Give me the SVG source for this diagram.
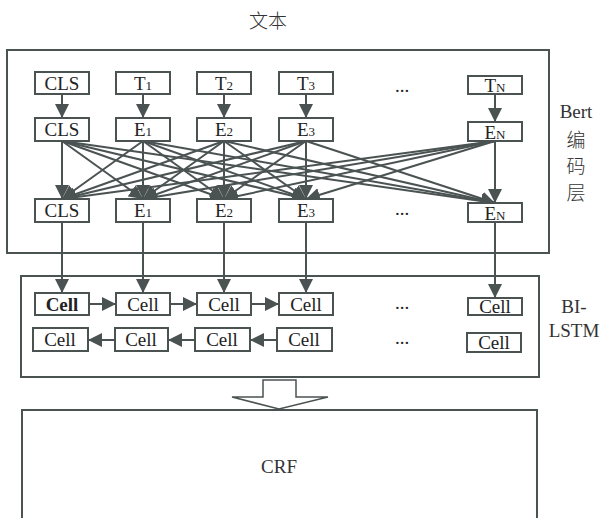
<svg xmlns="http://www.w3.org/2000/svg" width="600" height="518" viewBox="0 0 600 518">
<style>
.box{fill:#fff;stroke:#4b5352;stroke-width:2}
.frame{fill:none;stroke:#4b5352;stroke-width:2}
text{font-family:'Liberation Serif',serif;text-anchor:middle}
.cjk{font-family:'Liberation Serif','Noto Sans CJK SC',sans-serif;font-weight:300}
.t{font-size:19px;fill:#222}
.s{font-size:13px}
.lbl{font-size:19px;fill:#333}
.c{stroke:#4b5352;stroke-width:2;fill:none}
</style>
<defs>
<marker id="ah" markerUnits="userSpaceOnUse" markerWidth="15" markerHeight="14" refX="14" refY="7" orient="auto" viewBox="0 0 15 14">
<path d="M0,0 L14,7 L0,14 z" fill="#4b5352"/>
</marker>
</defs>
<rect width="600" height="518" fill="#fff"/>
<text class="lbl cjk" x="268" y="28" font-size="18">文本</text>
<rect class="frame" x="7" y="50" width="542" height="203"/>
<rect class="frame" x="21" y="276" width="518" height="101"/>
<rect class="frame" x="22" y="410" width="515" height="120"/>
<text class="lbl" x="279" y="473">CRF</text>
<text class="lbl" x="576" y="118">Bert</text>
<text class="lbl cjk" x="576" y="147">编</text>
<text class="lbl cjk" x="576" y="173">码</text>
<text class="lbl cjk" x="576" y="200">层</text>
<text class="lbl" x="574" y="313">BI-</text>
<text class="lbl" x="574" y="337">LSTM</text>
<path d="M263,380 H296 V397 H328 L279,409 L232,397 H263 Z" fill="#fff" stroke="#4b5352" stroke-width="1.5"/>
<g id="connectors">
<line class="c" x1="62" y1="94" x2="62" y2="118" marker-end="url(#ah)"/>
<line class="c" x1="143" y1="94" x2="143" y2="118" marker-end="url(#ah)"/>
<line class="c" x1="224" y1="94" x2="224" y2="118" marker-end="url(#ah)"/>
<line class="c" x1="306" y1="94" x2="306" y2="118" marker-end="url(#ah)"/>
<line class="c" x1="495" y1="94" x2="495" y2="122" marker-end="url(#ah)"/>
<g id="full">
<line class="c" x1="62" y1="141" x2="62" y2="199" marker-end="url(#ah)"/>
<line class="c" x1="62" y1="141" x2="143" y2="199" marker-end="url(#ah)"/>
<line class="c" x1="62" y1="141" x2="224" y2="199" marker-end="url(#ah)"/>
<line class="c" x1="62" y1="141" x2="306" y2="199" marker-end="url(#ah)"/>
<line class="c" x1="62" y1="141" x2="495" y2="203" marker-end="url(#ah)"/>
<line class="c" x1="143" y1="141" x2="62" y2="199" marker-end="url(#ah)"/>
<line class="c" x1="143" y1="141" x2="143" y2="199" marker-end="url(#ah)"/>
<line class="c" x1="143" y1="141" x2="224" y2="199" marker-end="url(#ah)"/>
<line class="c" x1="143" y1="141" x2="306" y2="199" marker-end="url(#ah)"/>
<line class="c" x1="143" y1="141" x2="495" y2="203" marker-end="url(#ah)"/>
<line class="c" x1="224" y1="141" x2="62" y2="199" marker-end="url(#ah)"/>
<line class="c" x1="224" y1="141" x2="143" y2="199" marker-end="url(#ah)"/>
<line class="c" x1="224" y1="141" x2="224" y2="199" marker-end="url(#ah)"/>
<line class="c" x1="224" y1="141" x2="306" y2="199" marker-end="url(#ah)"/>
<line class="c" x1="224" y1="141" x2="495" y2="203" marker-end="url(#ah)"/>
<line class="c" x1="306" y1="141" x2="62" y2="199" marker-end="url(#ah)"/>
<line class="c" x1="306" y1="141" x2="143" y2="199" marker-end="url(#ah)"/>
<line class="c" x1="306" y1="141" x2="224" y2="199" marker-end="url(#ah)"/>
<line class="c" x1="306" y1="141" x2="306" y2="199" marker-end="url(#ah)"/>
<line class="c" x1="306" y1="141" x2="495" y2="203" marker-end="url(#ah)"/>
<line class="c" x1="495" y1="141" x2="62" y2="199" marker-end="url(#ah)"/>
<line class="c" x1="495" y1="141" x2="143" y2="199" marker-end="url(#ah)"/>
<line class="c" x1="495" y1="141" x2="224" y2="199" marker-end="url(#ah)"/>
<line class="c" x1="495" y1="141" x2="306" y2="199" marker-end="url(#ah)"/>
<line class="c" x1="495" y1="141" x2="495" y2="203" marker-end="url(#ah)"/>
</g>
<line class="c" x1="62" y1="222" x2="62" y2="293" marker-end="url(#ah)"/>
<line class="c" x1="143" y1="222" x2="143" y2="293" marker-end="url(#ah)"/>
<line class="c" x1="224" y1="222" x2="224" y2="293" marker-end="url(#ah)"/>
<line class="c" x1="306" y1="222" x2="306" y2="293" marker-end="url(#ah)"/>
<line class="c" x1="495" y1="222" x2="495" y2="298" marker-end="url(#ah)"/>
<line class="c" x1="89" y1="304" x2="116" y2="304" marker-end="url(#ah)"/>
<line class="c" x1="170" y1="304" x2="197" y2="304" marker-end="url(#ah)"/>
<line class="c" x1="251" y1="304" x2="279" y2="304" marker-end="url(#ah)"/>
<line class="c" x1="115" y1="340" x2="88" y2="340" marker-end="url(#ah)"/>
<line class="c" x1="195" y1="340" x2="168" y2="340" marker-end="url(#ah)"/>
<line class="c" x1="277" y1="340" x2="250" y2="340" marker-end="url(#ah)"/>
</g>
<g id="in-cls"><rect class="box" x="35" y="72" width="54" height="22"/><text class="t" x="62" y="90">CLS</text></g>
<g id="in-t1"><rect class="box" x="116" y="72" width="54" height="22"/><text class="t" x="143" y="90">T<tspan class="s">1</tspan></text></g>
<g id="in-t2"><rect class="box" x="197" y="72" width="54" height="22"/><text class="t" x="224" y="90">T<tspan class="s">2</tspan></text></g>
<g id="in-t3"><rect class="box" x="279" y="72" width="54" height="22"/><text class="t" x="306" y="90">T<tspan class="s">3</tspan></text></g>
<g id="in-dots"><text class="t" x="402" y="92">...</text></g>
<g id="in-tn"><rect class="box" x="468" y="76" width="54" height="18"/><text class="t" x="495" y="92">T<tspan class="s">N</tspan></text></g>
<g id="e-cls"><rect class="box" x="35" y="118" width="54" height="23"/><text class="t" x="62" y="136">CLS</text></g>
<g id="e-1"><rect class="box" x="116" y="118" width="54" height="23"/><text class="t" x="143" y="136">E<tspan class="s">1</tspan></text></g>
<g id="e-2"><rect class="box" x="197" y="118" width="54" height="23"/><text class="t" x="224" y="136">E<tspan class="s">2</tspan></text></g>
<g id="e-3"><rect class="box" x="279" y="118" width="54" height="23"/><text class="t" x="306" y="136">E<tspan class="s">3</tspan></text></g>
<g id="e-n"><rect class="box" x="468" y="122" width="54" height="19"/><text class="t" x="495" y="139">E<tspan class="s">N</tspan></text></g>
<g id="o-cls"><rect class="box" x="35" y="199" width="54" height="23"/><text class="t" x="62" y="217">CLS</text></g>
<g id="o-1"><rect class="box" x="116" y="199" width="54" height="23"/><text class="t" x="143" y="217">E<tspan class="s">1</tspan></text></g>
<g id="o-2"><rect class="box" x="197" y="199" width="54" height="23"/><text class="t" x="224" y="217">E<tspan class="s">2</tspan></text></g>
<g id="o-3"><rect class="box" x="279" y="199" width="54" height="23"/><text class="t" x="306" y="217">E<tspan class="s">3</tspan></text></g>
<g id="o-dots"><text class="t" x="402" y="215">...</text></g>
<g id="o-n"><rect class="box" x="468" y="203" width="54" height="19"/><text class="t" x="495" y="220">E<tspan class="s">N</tspan></text></g>
<g id="f1"><rect class="box" x="35" y="293" width="54" height="22"/><text class="t" x="62" y="311" font-weight="bold">Cell</text></g>
<g id="f2"><rect class="box" x="116" y="293" width="54" height="22"/><text class="t" x="143" y="311">Cell</text></g>
<g id="f3"><rect class="box" x="197" y="293" width="54" height="22"/><text class="t" x="224" y="311">Cell</text></g>
<g id="f4"><rect class="box" x="279" y="293" width="54" height="22"/><text class="t" x="306" y="311">Cell</text></g>
<g id="f-dots"><text class="t" x="402" y="309">...</text></g>
<g id="fn"><rect class="box" x="468" y="298" width="54" height="17"/><text class="t" x="495" y="313">Cell</text></g>
<g id="b1"><rect class="box" x="33" y="328" width="55" height="23"/><text class="t" x="60" y="346">Cell</text></g>
<g id="b2"><rect class="box" x="115" y="328" width="53" height="23"/><text class="t" x="141" y="346">Cell</text></g>
<g id="b3"><rect class="box" x="195" y="328" width="55" height="23"/><text class="t" x="222" y="346">Cell</text></g>
<g id="b4"><rect class="box" x="277" y="328" width="55" height="23"/><text class="t" x="304" y="346">Cell</text></g>
<g id="b-dots"><text class="t" x="402" y="344">...</text></g>
<g id="bn"><rect class="box" x="467" y="333" width="54" height="19"/><text class="t" x="494" y="349">Cell</text></g>
</svg>
